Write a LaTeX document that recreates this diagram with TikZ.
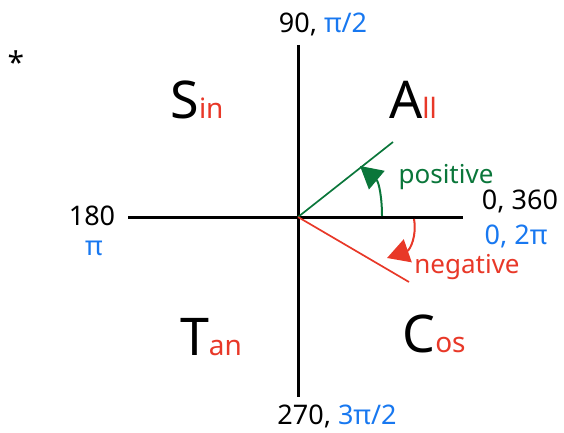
\documentclass[tikz,border=0pt]{standalone}
\usepackage{fontspec}
\setmainfont{Noto Sans}
\usetikzlibrary{arrows.meta}
\definecolor{pgreen}{RGB}{10,118,58}
\definecolor{pred}{RGB}{232,56,40}
\definecolor{pblue}{RGB}{24,120,240}
\tikzset{
  axis/.style={line width=3pt, black},
  glin/.style={line width=1.7pt, pgreen},
  rlin/.style={line width=1.7pt, pred},
  garr/.style={line width=2pt, pgreen, -{Triangle[length=22pt,width=24pt]}},
  rarr/.style={line width=2pt, pred, -{Triangle[length=22pt,width=24pt]}},
  lbl/.style={inner sep=0pt, font=\fontsize{26}{28}\selectfont},
  num/.style={inner sep=0pt, font=\fontsize{27}{29}\selectfont},
  big/.style={inner sep=0pt, font=\fontsize{52}{56}\selectfont},
}
\newcommand{\sm}[1]{{\fontsize{28}{30}\selectfont #1}}
\begin{document}
\begin{tikzpicture}[x=1pt,y=-1pt]
\useasboundingbox (0,0) rectangle (564,433);
\coordinate (O) at (298,217);
\coordinate (top) at (298,45);
\coordinate (bot) at (298,397);
\coordinate (lft) at (128,217);
\coordinate (rgt) at (463,217);
\draw[axis] (top) -- (bot);
\draw[axis] (lft) -- (rgt);
\coordinate (G) at (393,142);
\coordinate (R) at (409,282);
\draw[glin] (O) -- (G);
\draw[rlin] (O) -- (R);
\coordinate (gs) at (382,216);
\coordinate (ge) at (360,166);
\draw[garr] (gs) .. controls (382,198) and (379,182) .. (ge);
\coordinate (rs) at (414,219);
\coordinate (re) at (387,258);
\draw[rarr] (rs) .. controls (417,236) and (410,250) .. (re);
\node[lbl, text=pgreen] (pos) at (446,177) {positive};
\node[lbl, text=pred] (neg) at (467,267) {negative};
\node[num] (z360) at (520,201) {0, 360};
\node[num, text=pblue] (z2pi) at (516,236) {0, 2π};
\node[num] (n90) at (323,24) {90,\ \textcolor{pblue}{π/2}};
\node[num] (n180) at (92,216) {180};
\node[num, text=pblue] (npi) at (94,248) {π};
\node[num] (n270) at (337,416) {270,\ \textcolor{pblue}{3π/2}};
\node[num, font=\fontsize{30}{32}\selectfont] (star) at (16,62) {*};
\node[big, anchor=base] (sin) at (197,118) {S\textcolor{pred}{\sm{in}}};
\node[big, anchor=base] (all) at (413,118) {A\textcolor{pred}{\sm{ll}}};
\node[big, anchor=base] (tan) at (211,355) {T\textcolor{pred}{\sm{an}}};
\node[big, anchor=base] (cos) at (434,352) {C\textcolor{pred}{\sm{os}}};
\end{tikzpicture}
\end{document}
